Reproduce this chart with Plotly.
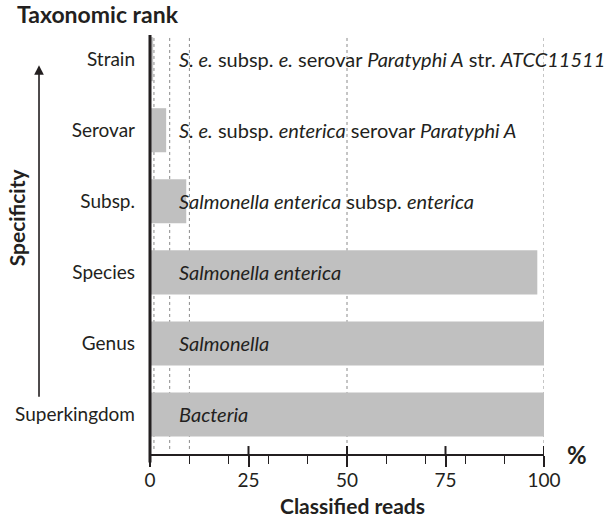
import plotly.graph_objects as go

ranks = ["Superkingdom", "Genus", "Species", "Subsp.", "Serovar", "Strain"]
percent = [100, 100, 98.3, 9.2, 4.1, 0.8]
taxa = [
    "<i>Bacteria</i>",
    "<i>Salmonella</i>",
    "<i>Salmonella enterica</i>",
    "<i>Salmonella enterica</i> subsp. <i>enterica</i>",
    "<i>S. e.</i> subsp. <i>enterica</i> serovar <i>Paratyphi A</i>",
    "<i>S. e.</i> subsp. <i>e.</i> serovar <i>Paratyphi A</i> str. <i>ATCC11511</i>",
]
guide_lines = [1, 5, 10, 50, 100]
major_ticks = [0, 25, 50, 75, 100]
label_x = 6.8

FONT = "Lato"
TXT = "#231f20"

fig = go.Figure()
fig.add_trace(go.Bar(
    x=percent, y=ranks, orientation="h",
    marker=dict(color="#c0c0c0", line=dict(width=0)),
    hoverinfo="skip",
))

for r, t in zip(ranks, taxa):
    fig.add_annotation(x=label_x, y=r, xref="x", yref="y", text=t, showarrow=False,
                       xanchor="left", yanchor="middle",
                       font=dict(family=FONT, size=20, color=TXT))

for g in guide_lines:
    fig.add_shape(type="line", xref="x", yref="paper", x0=g, x1=g, y0=0.012, y1=1,
                  line=dict(color="#8a8a8a", width=1, dash="dot"), layer="below")

for t in major_ticks[1:]:
    fig.add_shape(type="line", xref="x", yref="paper", x0=t, x1=t, y0=0, y1=0.019,
                  line=dict(color=TXT, width=2), layer="above")

# y-axis line extending below x axis
fig.add_shape(type="line", xref="paper", yref="paper", x0=0, x1=0, y0=-0.02, y1=1,
              line=dict(color=TXT, width=3), layer="above")

fig.add_annotation(x=-0.2817, y=0.928, xref="paper", yref="paper", text="",
                   showarrow=True, arrowhead=2, arrowsize=1.2, arrowwidth=1.6,
                   arrowcolor=TXT, ax=0, ay=333)
fig.add_annotation(x=-0.34, y=0.565, xref="paper", yref="paper", text="<b>Specificity</b>",
                   textangle=-90, showarrow=False, xanchor="center", yanchor="middle",
                   font=dict(family=FONT, size=21, color=TXT))
fig.add_annotation(x=-0.343, y=1.05, xref="paper", yref="paper", text="<b>Taxonomic rank</b>",
                   showarrow=False, xanchor="left", yanchor="middle",
                   font=dict(family=FONT, size=23, color=TXT))
fig.add_annotation(x=0.513, y=-0.123, xref="paper", yref="paper", text="<b>Classified reads</b>",
                   showarrow=False, xanchor="center", yanchor="middle", borderpad=0,
                   font=dict(family=FONT, size=21, color=TXT))
fig.add_annotation(x=1.083, y=0.0, xref="paper", yref="paper", text="<b>%</b>",
                   showarrow=False, xanchor="center", yanchor="middle",
                   font=dict(family=FONT, size=24, color=TXT))

fig.update_layout(
    width=610, height=520,
    margin=dict(l=150, r=66, t=35, b=66),
    paper_bgcolor="white", plot_bgcolor="rgba(0,0,0,0)",
    showlegend=False, bargap=0.38,
    font=dict(family=FONT, color=TXT),
)
fig.update_xaxes(range=[0, 100], tickvals=major_ticks, ticks="outside", ticklen=11,
                 tickwidth=2, tickcolor=TXT, showline=True, linecolor=TXT, linewidth=2,
                 showgrid=False, zeroline=False, ticklabelstandoff=-3,
                 tickfont=dict(family=FONT, size=19, color=TXT),
                 minor=dict(dtick=10, tick0=0, ticks="outside", ticklen=8, tickwidth=1,
                            tickcolor=TXT, showgrid=False))
fig.update_yaxes(type="category", categoryorder="array", categoryarray=ranks,
                 range=[-0.556, 5.34], showline=False, showgrid=False, zeroline=False,
                 ticks="", ticklabelstandoff=14,
                 tickfont=dict(family=FONT, size=19, color=TXT))

fig.write_html("out.html", config={"displayModeBar": False},
               post_script="document.body.style.margin='0px';")
